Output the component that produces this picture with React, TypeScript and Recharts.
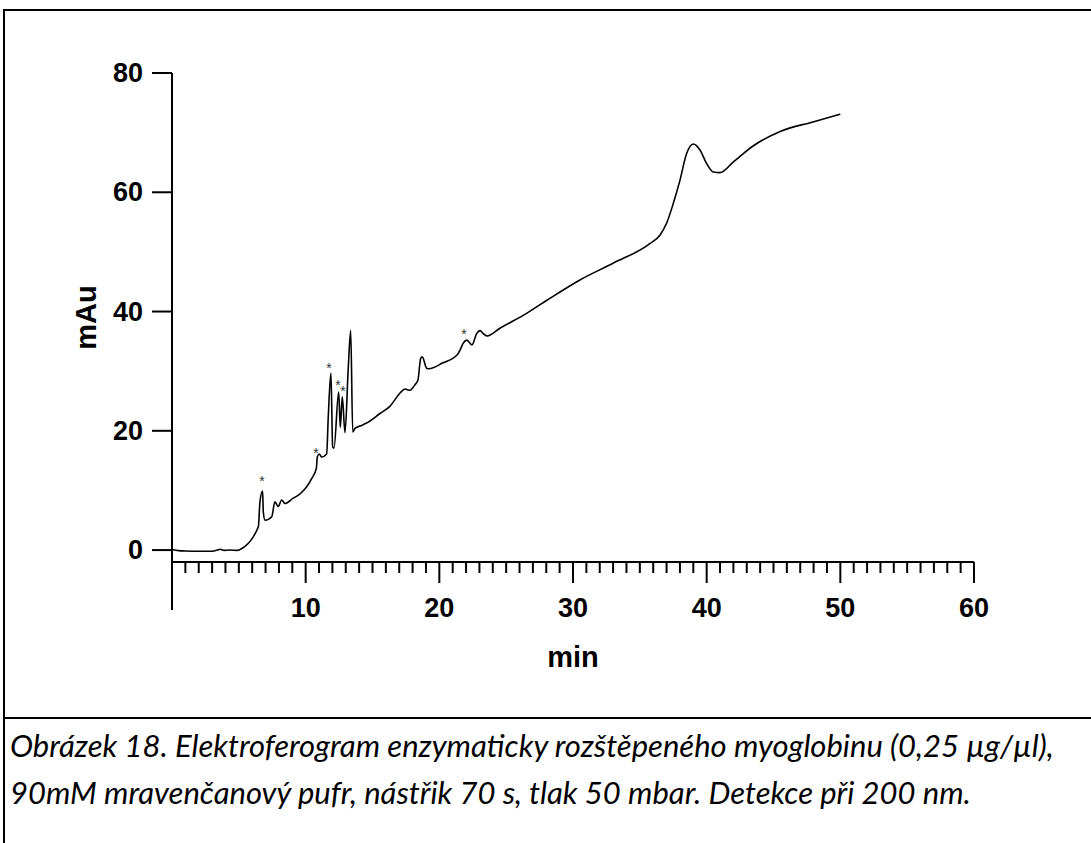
import {
  ComposedChart,
  Line,
  Scatter,
  XAxis,
  YAxis,
  ReferenceLine,
} from "recharts";

// electropherogram trace: migration time (min) vs absorbance (mAu)
const traceMin = [
  0, 0.5, 1, 2, 3, 3.4, 3.6, 3.9, 4.3, 4.9,
  5.09, 6.46, 6.58, 6.78, 6.83, 6.96, 7.46, 7.7, 7.95, 8.2,
  8.45, 9.07, 9.57, 10.45, 10.8, 10.87, 11.02, 11.2, 11.57, 11.69,
  11.89, 12.02, 12.12, 12.47, 12.59, 12.74, 12.94, 13.19, 13.37, 13.52,
  13.69, 14.06, 14.56, 15.56, 16.3, 17.05, 17.43, 17.8, 18.17, 18.4,
  18.6, 18.72, 19.05, 19.22, 20.27, 21.32, 21.54, 21.79, 22.06, 22.44,
  22.79, 23.04, 23.29, 23.58, 24.53, 26.53, 28.05, 30.52, 33.0, 35.75,
  36.5, 37.0, 37.5, 38.0, 38.5, 39.0, 39.5, 40.0, 40.5, 41.0,
  42.0, 43.5, 45.5, 47.95, 50.0,
];
const traceMau = [
  0.1, -0.1, -0.15, -0.2, -0.2, 0, 0.15, -0.05, 0, -0.05,
  0.1, 3.9, 8.1, 9.9, 6.4, 5.0, 5.6, 8.1, 7.3, 8.4,
  7.8, 8.7, 9.4, 12.0, 13.7, 15.6, 16.1, 15.6, 16.1, 22.3,
  29.7, 17.3, 17.1, 26.5, 20.6, 25.7, 19.7, 30.7, 36.8, 19.8,
  20.4, 20.8, 21.3, 22.9, 24.1, 26.3, 27.0, 26.8, 27.7, 28.5,
  32.1, 32.4, 30.5, 30.4, 31.4, 32.7, 33.5, 34.7, 35.2, 34.4,
  36.3, 36.8, 36.3, 35.9, 37.2, 39.7, 41.9, 45.3, 48.1, 51.4,
  52.8, 54.8, 58.1, 62.0, 66.5, 68.1, 67.1, 64.8, 63.4, 63.3,
  65.1, 67.8, 70.2, 71.8, 73.1,
];

// asterisks over the marked peaks
const starMin = [6.73, 10.77, 11.74, 12.42, 12.79, 21.84];
const starMau = [12.1, 16.8, 31.0, 28.2, 27.2, 36.7];

const xTicks = Array.from({ length: 61 }, (_, i) => i);
const yTicks = [0, 20, 40, 60, 80];

const trace = traceMin.map((x, i) => ({ x, y: traceMau[i] }));
const stars = starMin.map((x, i) => ({ x, y: starMau[i] }));

const AXIS_FONT = "'Liberation Sans', Arial, sans-serif";

const XTick = (props: any) => {
  const { x, y, payload } = props;
  const v = payload.value as number;
  const major = v % 10 === 0;
  return (
    <g>
      {v !== 0 && (
        <line x1={x} x2={x} y1={y} y2={y + (major ? 21 : 11)} stroke="#000" strokeWidth={2} />
      )}
      {major && v > 0 && (
        <text
          x={x}
          y={y + 46}
          textAnchor="middle"
          dominantBaseline="central"
          fontFamily={AXIS_FONT}
          fontWeight="bold"
          fontSize={27}
          fill="#000"
        >
          {v}
        </text>
      )}
    </g>
  );
};

const YTick = (props: any) => {
  const { x, y, payload } = props;
  return (
    <g>
      <line x1={x - 20} x2={x} y1={y} y2={y} stroke="#000" strokeWidth={2} />
      <text
        x={x - 29}
        y={y}
        textAnchor="end"
        dominantBaseline="central"
        fontFamily={AXIS_FONT}
        fontWeight="bold"
        fontSize={27}
        fill="#000"
      >
        {payload.value}
      </text>
    </g>
  );
};

const Star = (props: any) => {
  const { cx, cy } = props;
  return (
    <text x={cx} y={cy + 8} textAnchor="middle" fontFamily={AXIS_FONT} fontSize={14} fill="#333">
      *
    </text>
  );
};

export default function App() {
  return (
    <div style={{ position: "absolute", left: 0, top: 0, width: 1091, height: 843, overflow: "hidden", background: "#fff" }}>
      <div
        style={{
          position: "absolute",
          left: 3,
          top: 9,
          width: 1200,
          height: 900,
          border: "2px solid #000",
          boxSizing: "border-box",
        }}
      />
      <div style={{ position: "absolute", left: 3, top: 717, width: 1200, height: 2, background: "#000" }} />
      <div style={{ position: "absolute", left: 0, top: 0 }}>
        <ComposedChart
          width={1091}
          height={700}
          margin={{ top: 73, right: 117, bottom: 0, left: 0 }}
        >
          <XAxis
            type="number"
            dataKey="x"
            domain={[0, 60]}
            ticks={xTicks}
            interval={0}
            height={138}
            tickSize={0}
            tickMargin={0}
            tick={<XTick />}
            axisLine={{ stroke: "#000", strokeWidth: 2 }}
            tickLine={false}
            label={{
              value: "min",
              position: "insideBottom",
              offset: 33,
              fontFamily: AXIS_FONT,
              fontWeight: "bold",
              fontSize: 29,
              fill: "#000",
            }}
          />
          <YAxis
            type="number"
            dataKey="y"
            domain={[-2, 80]}
            ticks={yTicks}
            interval={0}
            width={172}
            tickSize={0}
            tickMargin={0}
            tick={<YTick />}
            axisLine={false}
            tickLine={false}
            label={{
              value: "mAu",
              angle: -90,
              position: "center",
              fontFamily: AXIS_FONT,
              fontWeight: "bold",
              fontSize: 29,
              fill: "#000",
            }}
          />
          <ReferenceLine
            segment={[{ x: 0, y: 80 }, { x: 0, y: -10.05 }]}
            stroke="#000"
            strokeWidth={2}
            ifOverflow="visible"
          />
          <Line
            data={trace}
            dataKey="y"
            type="monotone"
            stroke="#000"
            strokeWidth={1.6}
            dot={false}
            isAnimationActive={false}
          />
          <Scatter data={stars} dataKey="y" fill="#333" shape={<Star />} isAnimationActive={false} />
        </ComposedChart>
      </div>
      <div
        style={{
          position: "absolute",
          left: 10,
          top: 722,
          fontFamily: "Lato, 'Open Sans', sans-serif",
          fontStyle: "italic",
          fontSize: 31,
          lineHeight: "47px",
          color: "#000",
          whiteSpace: "nowrap",
        }}
      >
        <div>Obrázek 18. Elektroferogram enzymaticky rozštěpeného myoglobinu (0,25 µg/µl),</div>
        <div>90mM mravenčanový pufr, nástřik 70 s, tlak 50 mbar. Detekce při 200 nm.</div>
      </div>
    </div>
  );
}
